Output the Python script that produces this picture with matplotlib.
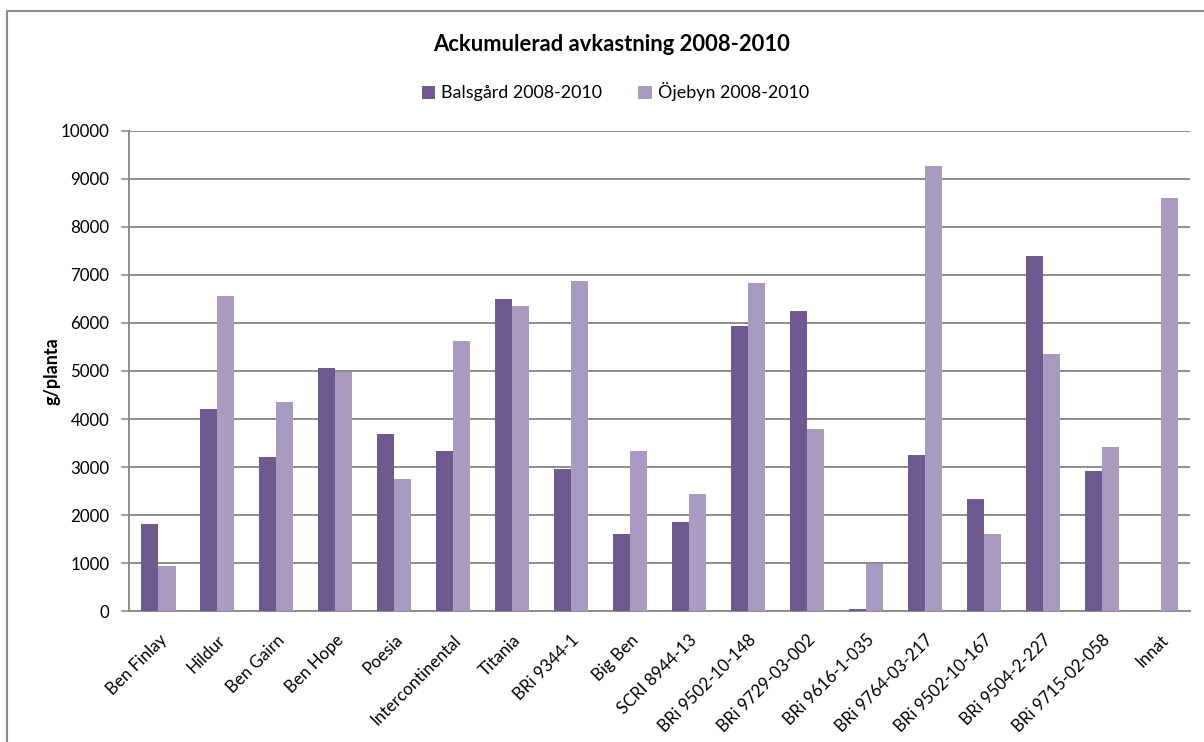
import numpy as np
import matplotlib.pyplot as plt
from matplotlib.lines import Line2D

plt.rcParams['font.family'] = ['Lato', 'DejaVu Sans']

# data
sorter = ["Ben Finlay", "Hildur", "Ben Gairn", "Ben Hope", "Poesia",
          "Intercontinental", "Titania", "BRi 9344-1", "Big Ben",
          "SCRI 8944-13", "BRi 9502-10-148", "BRi 9729-03-002",
          "BRi 9616-1-035", "BRi 9764-03-217", "BRi 9502-10-167",
          "BRi 9504-2-227", "BRi 9715-02-058", "Innat"]
balsgard = [1820, 4210, 3210, 5070, 3690, 3340, 6490, 2960, 1600,
            1850, 5940, 6250, 40, 3240, 2330, 7390, 2920, 0]
ojebyn = [940, 6560, 4350, 4970, 2750, 5620, 6350, 6870, 3340,
          2440, 6840, 3790, 980, 9270, 1600, 5350, 3410, 8610]

c_bals = '#6f5a90'
c_ojeb = '#a99bc0'
grid_c = '#8c8c8c'

fig = plt.figure(figsize=(12.04, 7.42), dpi=100)
ax = fig.add_axes([0.1071, 0.1765, 0.8813, 0.647])

x = np.arange(len(sorter))
w = 0.29
ax.bar(x - w / 2, balsgard, w, color=c_bals, label="Balsgård 2008-2010", zorder=3)
ax.bar(x + w / 2, ojebyn, w, color=c_ojeb, label="Öjebyn 2008-2010", zorder=3)

ax.set_xlim(-0.5, len(sorter) - 0.5)
ax.set_ylim(0, 10000)
ax.set_yticks(np.arange(0, 10001, 1000))
ax.yaxis.grid(True, color=grid_c, linewidth=1.4, zorder=0)
ax.set_axisbelow(True)

for s in ['top', 'right']:
    ax.spines[s].set_visible(False)
ax.spines['left'].set_color(grid_c)
ax.spines['left'].set_linewidth(1.4)
ax.spines['bottom'].set_color(grid_c)
ax.spines['bottom'].set_linewidth(1.4)

ax.tick_params(axis='y', length=6, color=grid_c, width=1.2, labelsize=12.2, pad=8)
ax.tick_params(axis='x', length=0, labelsize=12.2, pad=15)
ax.set_xticks(x)
ax.set_xticklabels(sorter, rotation=45, ha='right', rotation_mode='anchor')

ax.set_ylabel("g/planta", fontsize=13, fontweight='bold', labelpad=0)

fig.text(0.508, 0.94, "Ackumulerad avkastning 2008-2010", ha='center', va='center',
         fontsize=15.8, fontweight='bold')
fig.legend(loc='center', bbox_to_anchor=(0.511, 0.876), ncol=2, frameon=False,
           fontsize=12.9, handlelength=0.75, handleheight=0.75, handletextpad=0.35,
           columnspacing=2.0)

# outer chart border (top and left only visible)
fig.add_artist(Line2D([7 / 1204, 7 / 1204, 1.0], [0.0, 1 - 11 / 742, 1 - 11 / 742],
                      transform=fig.transFigure, color='#8c8c8c', linewidth=1.5))

fig.savefig("out.png", dpi=100)
